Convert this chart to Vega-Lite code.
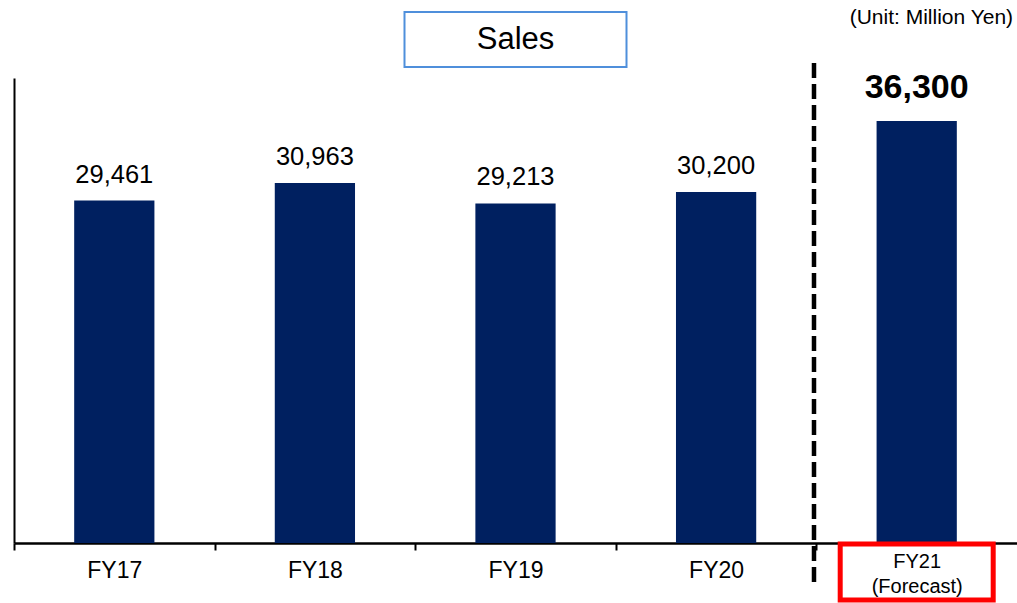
{
  "$schema": "https://vega.github.io/schema/vega-lite/v6.json",
  "width": 1003,
  "height": 465,
  "autosize": {"type": "none"},
  "padding": {"left": 14, "top": 78, "right": 0, "bottom": 60},
  "background": "white",
  "config": {"view": {"stroke": null}, "font": "Liberation Sans"},
  "data": {
    "values": [
      {"year": "FY17", "sales": 29461},
      {"year": "FY18", "sales": 30963},
      {"year": "FY19", "sales": 29213},
      {"year": "FY20", "sales": 30200},
      {"year": "FY21", "sales": 36300}
    ]
  },
  "layer": [
    {
      "mark": {"type": "bar", "color": "#002060"},
      "encoding": {
        "x": {
          "field": "year", "type": "nominal", "sort": null,
          "scale": {"paddingInner": 0.6, "paddingOuter": 0.3},
          "axis": {
            "title": null,
            "domainColor": "black", "domainWidth": 2.5,
            "tickColor": "black", "tickWidth": 2, "tickSize": 7,
            "tickOffset": -100.3, "labelOffset": 100.3,
            "labelAngle": 0, "labelColor": "black", "labelFont": "Liberation Sans",
            "labelFontSize": {"condition": {"test": "datum.value == 'FY21'", "value": 20}, "value": 23},
            "labelBaseline": "middle",
            "labelPadding": {"condition": {"test": "datum.value == 'FY21'", "value": 11}, "value": 20},
            "labelLineHeight": 25,
            "labelOverlap": false,
            "labelExpr": "datum.value == 'FY21' ? ['FY21', '(Forecast)'] : datum.value"
          }
        },
        "y": {
          "field": "sales", "type": "quantitative",
          "scale": {"domain": [0, 40000], "nice": false},
          "axis": {"title": null, "labels": false, "ticks": false, "grid": false, "domainColor": "black", "domainWidth": 2}
        }
      }
    },
    {
      "transform": [{"filter": "datum.year != 'FY21'"}],
      "mark": {"type": "text", "baseline": "alphabetic", "dy": -18, "fontSize": 25.5, "font": "Liberation Sans", "color": "black"},
      "encoding": {
        "x": {"field": "year", "type": "nominal", "sort": null},
        "y": {"field": "sales", "type": "quantitative", "scale": {"domain": [0, 40000], "nice": false}},
        "text": {"field": "sales", "type": "quantitative", "format": ","}
      }
    },
    {
      "transform": [{"filter": "datum.year == 'FY21'"}],
      "mark": {"type": "text", "baseline": "alphabetic", "dy": -23, "fontSize": 34, "fontWeight": "bold", "font": "Liberation Sans", "color": "black"},
      "encoding": {
        "x": {"field": "year", "type": "nominal", "sort": null},
        "y": {"field": "sales", "type": "quantitative", "scale": {"domain": [0, 40000], "nice": false}},
        "text": {"field": "sales", "type": "quantitative", "format": ","}
      }
    },
    {
      "data": {"values": [{}]},
      "mark": {"type": "bar", "width": 222, "fill": "white", "stroke": "#4F8FDB", "strokeWidth": 2},
      "encoding": {
        "x": {"datum": "FY19", "type": "nominal"},
        "y": {"datum": 45677, "type": "quantitative", "scale": {"domain": [0, 40000], "nice": false}},
        "y2": {"datum": 40946}
      }
    },
    {
      "data": {"values": [{}]},
      "mark": {"type": "text", "baseline": "middle", "fontSize": 31, "font": "Liberation Sans", "color": "black"},
      "encoding": {
        "x": {"datum": "FY19", "type": "nominal"},
        "y": {"datum": 43269, "type": "quantitative", "scale": {"domain": [0, 40000], "nice": false}},
        "text": {"value": "Sales"}
      }
    },
    {
      "data": {"values": [{}]},
      "mark": {"type": "text", "baseline": "middle", "align": "left", "dx": -67, "fontSize": 21, "font": "Liberation Sans", "color": "black"},
      "encoding": {
        "x": {"datum": "FY21", "type": "nominal"},
        "y": {"datum": 45161, "type": "quantitative", "scale": {"domain": [0, 40000], "nice": false}},
        "text": {"value": "(Unit: Million Yen)"}
      }
    },
    {
      "data": {"values": [{}]},
      "mark": {"type": "rule", "color": "black", "strokeWidth": 4.5, "strokeDash": [15, 6]},
      "encoding": {
        "x": {"datum": "FY21", "type": "nominal", "bandPosition": -0.78},
        "y": {"datum": 41290, "type": "quantitative", "scale": {"domain": [0, 40000], "nice": false}},
        "y2": {"datum": -3613}
      }
    },
    {
      "data": {"values": [{}]},
      "mark": {"type": "bar", "width": 153, "fill": "transparent", "stroke": "#FF0000", "strokeWidth": 5},
      "encoding": {
        "x": {"datum": "FY21", "type": "nominal"},
        "y": {"datum": -86, "type": "quantitative", "scale": {"domain": [0, 40000], "nice": false}},
        "y2": {"datum": -4903}
      }
    }
  ]
}
